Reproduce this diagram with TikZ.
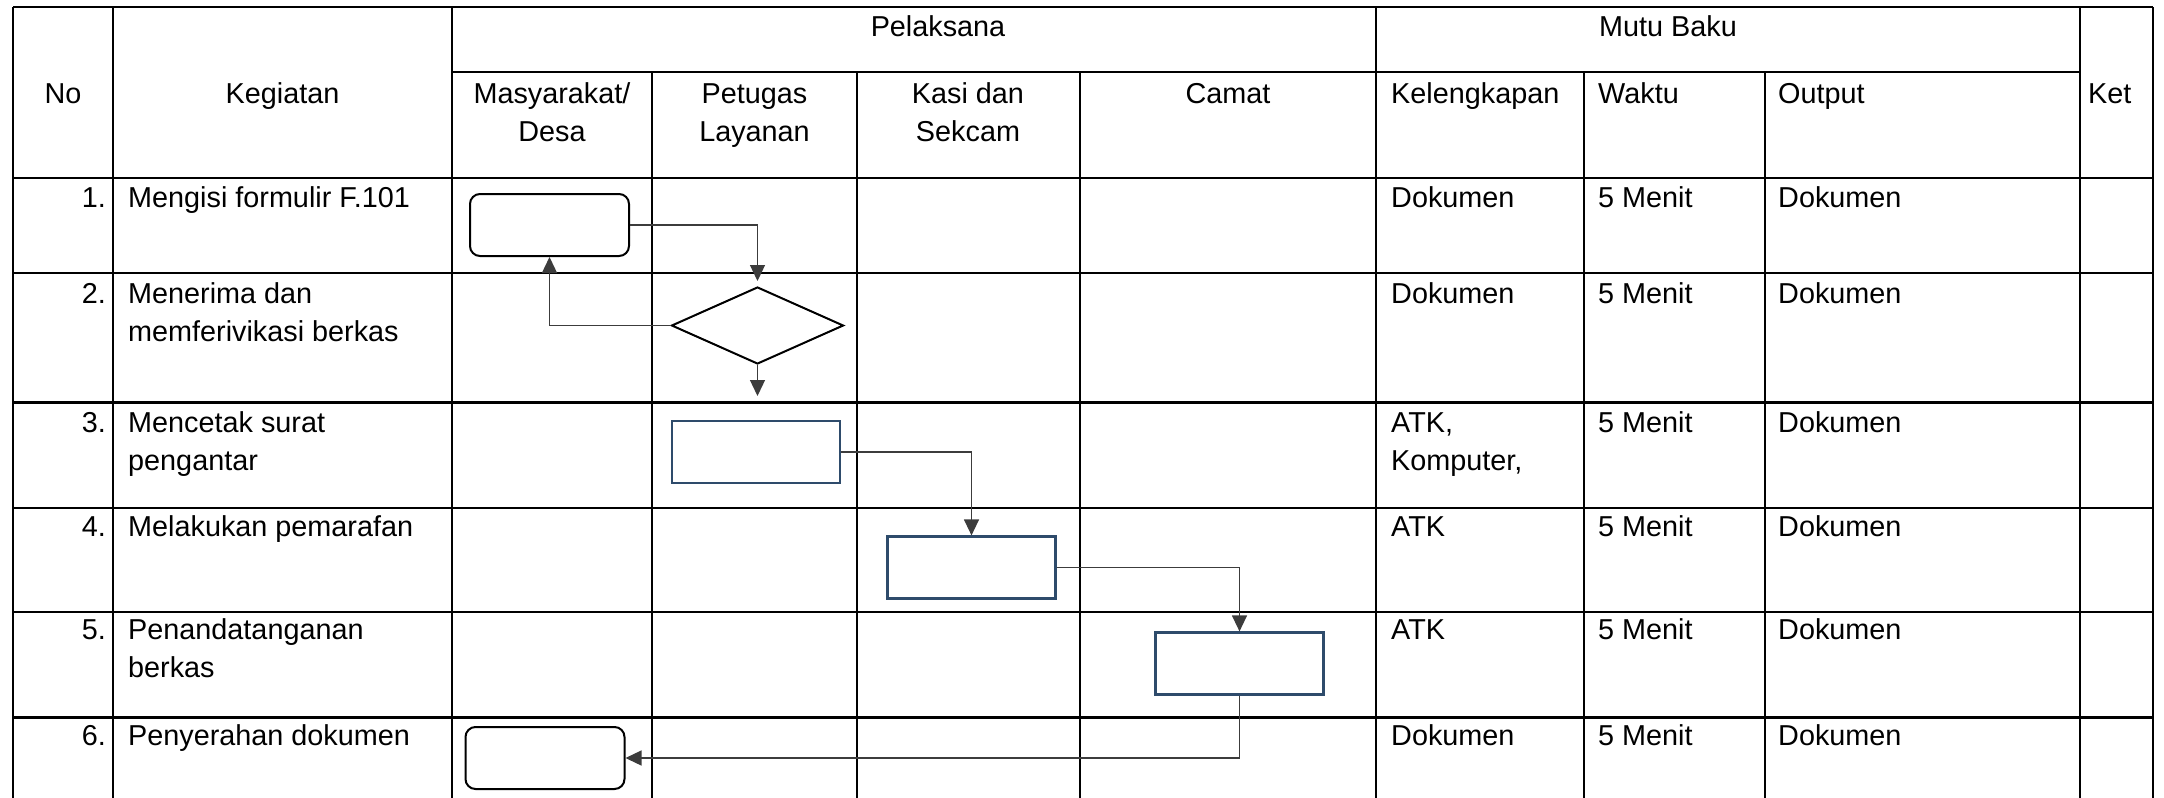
\documentclass[tikz,border=0pt]{standalone}
\usepackage{fontspec}
\setmainfont{Liberation Sans}
\usepackage{tikz}
\usetikzlibrary{shapes.geometric, arrows.meta}

\definecolor{garis}{HTML}{3C3C3C}
\definecolor{biru}{HTML}{2E4B6B}

\begin{document}
\begin{tikzpicture}[x=1pt, y=-1pt,
    teks/.style={font=\fontsize{28.8}{38}\selectfont, inner sep=0pt, align=left},
    tengah/.style={teks, align=center, anchor=base},
    kiri/.style={teks, anchor=base west},
    kanan/.style={teks, anchor=base east},
    mulai/.style={draw, line width=2pt, rounded corners=10pt, minimum width=159pt, minimum height=62pt},
    proses/.style={draw=biru, line width=2.2pt, minimum width=168pt, minimum height=62pt},
    putusan/.style={draw, diamond, line width=2pt, minimum width=172pt, minimum height=77pt, inner sep=0pt},
    alur/.style={draw=garis, line width=1.3pt, -{Triangle[length=16pt, width=15pt]}}]
  \useasboundingbox (0,0) rectangle (2164,798);

  \begin{scope}[line width=2.6pt]
    \draw (13,7) -- (2153,7);
    \draw (452,72) -- (2080,72);
    \foreach \y in {178,273,402.5,508,612,717.5}
      \draw (13,\y) -- (2153,\y);
    \foreach \x in {13,113,452,1376,2080,2153}
      \draw (\x,7) -- (\x,798);
    \foreach \x in {652,857,1080,1584,1765}
      \draw (\x,72) -- (\x,798);
  \end{scope}

  \node [tengah] (pel) at (938,36) {Pelaksana};
  \node [tengah] (mutu) at (1668,36) {Mutu Baku};
  \node [tengah] (no) at (63,103) {No};
  \node [tengah] (keg) at (282.5,103) {Kegiatan};
  \node [tengah] (masy) at (552,141) {Masyarakat/\\Desa};
  \node [tengah] (ptg) at (754.5,141) {Petugas\\Layanan};
  \node [tengah] (kasi) at (968,141) {Kasi dan\\Sekcam};
  \node [tengah] (camat) at (1228,103) {Camat};
  \node [kiri] (kel) at (1391,103) {Kelengkapan};
  \node [kiri] (wkt) at (1598,103) {Waktu};
  \node [kiri] (out) at (1778,103) {Output};
  \node [kiri] (ket) at (2088,103) {Ket};

  \node [kanan] (n1) at (106,207) {1.};
  \node [kanan] (n2) at (106,303) {2.};
  \node [kanan] (n3) at (106,432) {3.};
  \node [kanan] (n4) at (106,536) {4.};
  \node [kanan] (n5) at (106,639) {5.};
  \node [kanan] (n6) at (106,745) {6.};

  \node [kiri] (k1) at (128,207) {Mengisi formulir F.101};
  \node [kiri] (k2) at (128,341) {Menerima dan\\memferivikasi berkas};
  \node [kiri] (k3) at (128,470) {Mencetak surat\\pengantar};
  \node [kiri] (k4) at (128,536) {Melakukan pemarafan};
  \node [kiri] (k5) at (128,677) {Penandatanganan\\berkas};
  \node [kiri] (k6) at (128,745) {Penyerahan dokumen};

  \node [kiri] (l1) at (1391,207) {Dokumen};
  \node [kiri] (l2) at (1391,303) {Dokumen};
  \node [kiri] (l3) at (1391,470) {ATK,\\Komputer,};
  \node [kiri] (l4) at (1391,536) {ATK};
  \node [kiri] (l5) at (1391,639) {ATK};
  \node [kiri] (l6) at (1391,745) {Dokumen};

  \node [kiri] (w1) at (1598,207) {5 Menit};
  \node [kiri] (w2) at (1598,303) {5 Menit};
  \node [kiri] (w3) at (1598,432) {5 Menit};
  \node [kiri] (w4) at (1598,536) {5 Menit};
  \node [kiri] (w5) at (1598,639) {5 Menit};
  \node [kiri] (w6) at (1598,745) {5 Menit};

  \node [kiri] (o1) at (1778,207) {Dokumen};
  \node [kiri] (o2) at (1778,303) {Dokumen};
  \node [kiri] (o3) at (1778,432) {Dokumen};
  \node [kiri] (o4) at (1778,536) {Dokumen};
  \node [kiri] (o5) at (1778,639) {Dokumen};
  \node [kiri] (o6) at (1778,745) {Dokumen};

  \node [mulai] (isi) at (549.5,225) {};
  \node [putusan] (cek) at (757.5,325.5) {};
  \coordinate (lanjut) at (757.5,396);
  \node [proses] (cetak) at (756,452) {};
  \node [proses] (paraf) at (971.5,567.5) {};
  \node [proses] (ttd) at (1239.5,663.5) {};
  \node [mulai] (serah) at (545,758) {};

  \draw [alur, shorten >=5pt] (isi.east) -| (cek.north);
  \draw [alur] (cek.west) -| (isi.south);
  \draw [alur] (cek.south) -- (lanjut);
  \draw [alur] (cetak.east) -| (paraf.north);
  \draw [alur] (paraf.east) -| (ttd.north);
  \draw [alur] (ttd.south) |- (serah.east);
\end{tikzpicture}
\end{document}
